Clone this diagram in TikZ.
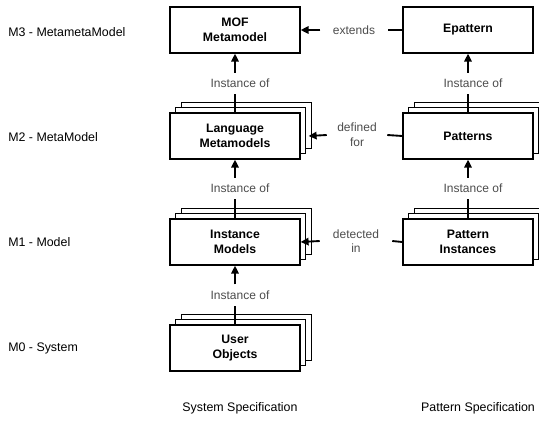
\documentclass[tikz,border=0pt]{standalone}
\usepackage{fontspec}
\setmainfont{Liberation Sans}
\usetikzlibrary{arrows.meta,shadows}

\begin{document}
\begin{tikzpicture}[
  x=0.75pt, y=-0.75pt,
  box/.style={draw=black, fill=white, line width=0.9pt, minimum width=97.5pt, minimum height=34.5pt,
    align=center, font=\bfseries\fontsize{9.2}{11.3}\selectfont},
  stack/.style={box,
    copy shadow={shadow xshift=8.4pt, shadow yshift=8pt},
    copy shadow={shadow xshift=4.4pt, shadow yshift=4.4pt}},
  rel/.style={text=black!70, align=center, inner ysep=4.5pt, font=\fontsize{9}{11}\selectfont},
  side/.style={rel, minimum width=50pt, inner xsep=0pt},
  level/.style={anchor=west, inner sep=0pt, font=\fontsize{9.3}{11}\selectfont},
  conn/.style={line width=1.4pt},
  arr/.style={conn, -{Triangle[width=5.5pt,length=6pt]}}
]
  \useasboundingbox (0,0) rectangle (539,422);

  % Levels
  \node[level] (m3) at (8,32)  {M3 - MetametaModel};
  \node[level] (m2) at (8,137) {M2 - MetaModel};
  \node[level] (m1) at (8,242) {M1 - Model};
  \node[level] (m0) at (8,348) {M0 - System};

  % System specification column
  \node[box]   (mof)  at (235,30)  {MOF\\Metamodel};
  \node[stack] (lang) at (235,136) {Language\\Metamodels};
  \node[stack] (inst) at (235,242) {Instance\\Models};
  \node[stack] (user) at (235,348) {User\\Objects};

  % Pattern specification column
  \node[box]   (epat)  at (468,30)  {Epattern};
  \node[stack] (pat)   at (468,136) {Patterns};
  \node[stack] (pinst) at (468,242) {Pattern\\Instances};

  % Instance-of labels
  \node[rel] (io1) at (240,83.5)  {Instance of};
  \node[rel] (io2) at (240,188.5) {Instance of};
  \node[rel] (io3) at (240,295)   {Instance of};
  \node[rel] (io4) at (473,83.5)  {Instance of};
  \node[rel] (io5) at (473,188.5) {Instance of};

  \foreach \up/\down/\lab in {mof/lang/io1, lang/inst/io2, inst/user/io3, epat/pat/io4, pat/pinst/io5} {
    \draw[conn] (\down.north) -- (\down.north |- \lab.south);
    \draw[arr] (\down.north |- \lab.north) -- (\up.south);
  }

  % Links between the columns
  \node[side] (ext) at (354,30)  {extends};
  \node[side, minimum width=45pt] (def) at (357,135) {defined\\for};
  \node[side, minimum width=54pt] (det) at (356,241) {detected\\in};

  \draw[conn] (epat.west) -- (ext.east);
  \draw[arr] (ext.west) -- (mof.east);
  \draw[conn] (pat.west) -- (def.east);
  \draw[arr] (def.west) -- ([xshift=6pt]lang.east);
  \draw[conn] (pinst.west) -- (det.east);
  \draw[arr] (det.west) -- (inst.east);

  % Column titles
  \node[font=\fontsize{9.3}{11}\selectfont] (sys) at (240,408) {System Specification};
  \node[font=\fontsize{9.3}{11}\selectfont] (pspec) at (478,408) {Pattern Specification};
\end{tikzpicture}
\end{document}
